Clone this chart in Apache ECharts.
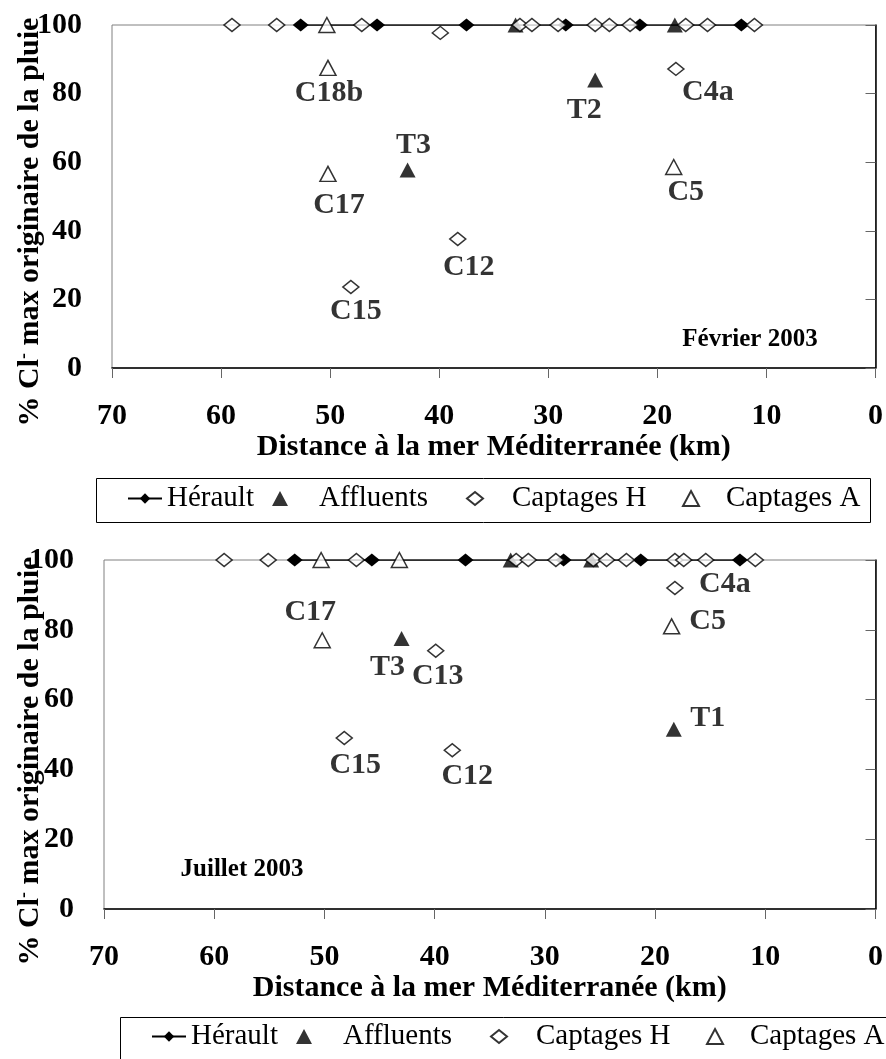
<!DOCTYPE html>
<html><head><meta charset="utf-8">
<script src="https://cdn.jsdelivr.net/npm/echarts@6/dist/echarts.min.js"></script>
<style>html,body{margin:0;padding:0;background:#fff}#c{width:886px;height:1059px}</style>
</head><body><div id="c"></div>
<script>
// ---------- DATA ----------
const seriesNames = ['Hérault', 'Affluents', 'Captages H', 'Captages A'];
const xAxisTitle = 'Distance à la mer Méditerranée (km)';
const panelTitles = ['Février 2003', 'Juillet 2003'];

// Février 2003 : [distance km, % Cl- , label]
const febHerault = [[52.7,100],[45.7,100],[37.5,100],[28.4,100],[21.6,100],[12.3,100]];
const febAffluents = [[33.0,100],[18.4,100],[25.7,84.0,'T2'],[42.9,57.7,'T3']];
const febCaptagesH = [[59.0,100],[54.9,100],[47.1,100],[39.9,97.7],[32.6,100],[31.5,100],[29.1,100],[25.7,100],[24.4,100],[22.5,100],[17.4,100],[15.4,100],[11.1,100],
  [18.3,87.2,'C4a'],[38.3,37.6,'C12'],[48.1,23.6,'C15']];
const febCaptagesA = [[50.3,100],[50.2,87.5,'C18b'],[50.2,56.6,'C17'],[18.5,58.6,'C5']];

// Juillet 2003
const julHerault = [[52.7,100],[45.7,100],[37.2,100],[28.3,100],[21.3,100],[12.3,100]];
const julAffluents = [[33.1,100],[25.8,100],[43.0,77.5,'T3'],[18.3,51.5,'T1']];
const julCaptagesH = [[59.1,100],[55.1,100],[47.1,100],[32.6,100],[31.5,100],[29.0,100],[25.6,100],[24.4,100],[22.6,100],[18.2,100],[17.4,100],[15.4,100],[10.9,100],
  [18.2,92.0,'C4a'],[39.9,74.0,'C13'],[48.2,49.0,'C15'],[38.4,45.5,'C12']];
const julCaptagesA = [[50.3,100],[43.2,100],[50.2,77.0,'C17'],[18.5,81.0,'C5']];

// ---------- LABEL OFFSETS (px) ----------
const febLabelOffset = {T2:[-11,30], T3:[6,-25], C4a:[32,23], C12:[11,28], C15:[5,24], C18b:[1,25], C17:[11,31], C5:[12,25]};
const julLabelOffset = {T3:[-14,29], T1:[34,-11], C4a:[50,-4], C13:[2,26], C15:[11,27], C12:[15,26], C17:[-12,-28], C5:[36,-5]};

const FONT = 'Liberation Serif';
const SZ = 30;

function toData(arr, offsets) {
  return arr.map(p => {
    const item = {value: [p[0], p[1]]};
    if (p[2]) {
      item.label = {show: true, formatter: p[2], position: 'inside', offset: offsets[p[2]]};
    }
    return item;
  });
}
const labelStyle = {color:'#000', fontFamily: FONT, fontSize: SZ, fontWeight: 'bold'};

function panelSeries(gi, h, a, ch, ca, offsets) {
  const common = {xAxisIndex: gi, yAxisIndex: gi, label: labelStyle, emphasis: {disabled: true}, animation: false};
  return [
    Object.assign({}, common, {name: seriesNames[0], type: 'line', data: toData(h, offsets), symbol: 'diamond', symbolSize: [16,13],
      itemStyle: {color: '#000'}, lineStyle: {color: '#000', width: 1.5}, z: 3}),
    Object.assign({}, common, {name: seriesNames[1], type: 'scatter', data: toData(a, offsets), symbol: 'triangle', symbolSize: [16,15],
      itemStyle: {color: '#000'}, z: 4}),
    Object.assign({}, common, {name: seriesNames[2], type: 'scatter', data: toData(ch, offsets), symbol: 'diamond', symbolSize: [16,13],
      itemStyle: {color: '#fff', borderColor: '#000', borderWidth: 1.5}, z: 5}),
    Object.assign({}, common, {name: seriesNames[3], type: 'scatter', data: toData(ca, offsets), symbol: 'triangle', symbolSize: [16,15],
      itemStyle: {color: '#fff', borderColor: '#000', borderWidth: 1.5}, z: 5})
  ];
}

function xAxisFor(gi, gap) {
  return {gridIndex: gi, type: 'value', inverse: true, min: 0, max: 70, interval: 10,
    axisLine: {show: true, lineStyle: {color: '#000', width: 1.5}},
    axisTick: {show: true, length: 10, lineStyle: {color: '#666'}},
    splitLine: {show: false},
    axisLabel: {margin: 33, color: '#000', fontFamily: FONT, fontSize: SZ, fontWeight: 'bold'},
    name: xAxisTitle, nameLocation: 'middle', nameGap: gap,
    nameTextStyle: {color: '#000', fontFamily: FONT, fontSize: SZ, fontWeight: 'bold'}};
}
function yAxisFor(gi) {
  return {gridIndex: gi, type: 'value', min: 0, max: 100, interval: 20,
    axisLine: {show: true, lineStyle: {color: '#000', width: 1.5}},
    axisTick: {show: true, length: 10, lineStyle: {color: '#666'}},
    splitLine: {show: false},
    axisLabel: {margin: 30, color: '#000', fontFamily: FONT, fontSize: SZ, fontWeight: 'bold'}};
}

function legendsFor(cy, dx) {
  const items = [
    {name: seriesNames[0], left: 127, w: 34, h: 13, pad: 0},
    {name: seriesNames[1], left: 272, w: 16, h: 15, pad: 26},
    {name: seriesNames[2], left: 466, w: 16, h: 13, pad: 24},
    {name: seriesNames[3], left: 682, w: 16, h: 15, pad: 22}
  ];
  return items.map(it => ({
    data: [it.name], left: it.left + dx, top: cy - 16, orient: 'horizontal', padding: 0,
    itemWidth: it.w, itemHeight: it.h, itemGap: 0, selectedMode: false,
    textStyle: {color: '#000', fontFamily: FONT, fontSize: 29, padding: [0,0,0,it.pad]}
  }));
}

const yTitleRich = {
  a: {fontFamily: FONT, fontSize: SZ, fontWeight: 'bold', fill: '#000'},
  s: {fontFamily: FONT, fontSize: 18, fontWeight: 'bold', fill: '#000', verticalAlign: 'top'}
};
function yTitle(cx, cy) {
  return {type: 'text', x: cx, y: cy, rotation: Math.PI / 2,
    style: {text: '{a|% Cl}{s|-}{a| max originaire de la pluie}', rich: yTitleRich, align: 'center', verticalAlign: 'middle'}};
}

const option = {
  backgroundColor: '#fff',
  animation: false,
  grid: [
    {left: 112, top: 25, width: 766, height: 343, show: true, borderColor: '#808080', borderWidth: 1, backgroundColor: 'transparent'},
    {left: 104, top: 560, width: 774, height: 349, show: true, borderColor: '#808080', borderWidth: 1, backgroundColor: 'transparent'}
  ],
  xAxis: [xAxisFor(0, 60), xAxisFor(1, 61)],
  yAxis: [yAxisFor(0), yAxisFor(1)],
  legend: legendsFor(500, 0).concat(legendsFor(1038, 24)),
  graphic: [
    yTitle(30, 222), yTitle(30, 761),
    {type: 'rect', shape: {x: 96.5, y: 478.5, width: 774, height: 44}, style: {fill: 'none', stroke: '#000', lineWidth: 1}},
    {type: 'rect', shape: {x: 120.5, y: 1017.5, width: 774, height: 44}, style: {fill: 'none', stroke: '#000', lineWidth: 1}},
    {type: 'text', x: 750, y: 340, style: {text: panelTitles[0], fontFamily: FONT, fontSize: 25, fontWeight: 'bold', fill: '#000', align: 'center', verticalAlign: 'middle'}},
    {type: 'text', x: 242, y: 870, style: {text: panelTitles[1], fontFamily: FONT, fontSize: 25, fontWeight: 'bold', fill: '#000', align: 'center', verticalAlign: 'middle'}}
  ],
  series: panelSeries(0, febHerault, febAffluents, febCaptagesH, febCaptagesA, febLabelOffset)
    .concat(panelSeries(1, julHerault, julAffluents, julCaptagesH, julCaptagesA, julLabelOffset))
};

const chart = echarts.init(document.getElementById('c'), null, {renderer: 'canvas'});
chart.setOption(option);
</script>
</body></html>
